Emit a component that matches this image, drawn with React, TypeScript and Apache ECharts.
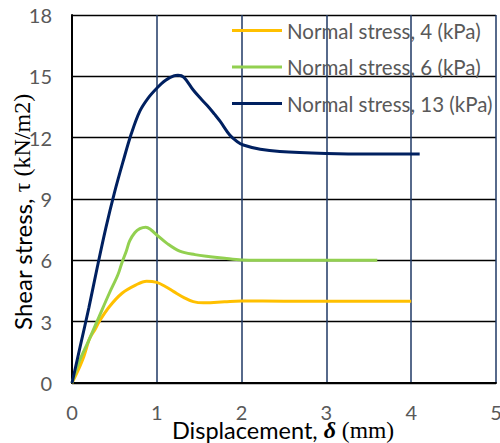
import React, { useEffect, useRef } from "react";
import * as echarts from "echarts";

const seriesNames = ["Normal stress, 4 (kPa)", "Normal stress, 6 (kPa)", "Normal stress, 13 (kPa)"];
const seriesColors = ["#FFC000", "#92D050", "#002060"];

const disp4 = [0, 0.07, 0.14, 0.2, 0.23, 0.27, 0.32, 0.44, 0.59, 0.75, 0.88, 1.0, 1.1, 1.2, 1.32, 1.43, 1.55, 1.63, 1.8, 2.0, 2.5, 3.0, 4.0];
const tau4 = [0, 0.6, 1.3, 2.1, 2.35, 2.6, 3.0, 3.73, 4.39, 4.79, 4.98, 4.92, 4.72, 4.47, 4.18, 3.98, 3.92, 3.93, 3.97, 4.01, 4.0, 4.0, 4.0];

const disp6 = [0, 0.09, 0.2, 0.32, 0.44, 0.54, 0.59, 0.64, 0.68, 0.74, 0.8, 0.87, 0.93, 1.0, 1.12, 1.27, 1.45, 1.63, 1.8, 2.0, 2.2, 3.0, 3.6];
const tau6 = [0, 1.1, 2.1, 3.25, 4.39, 5.28, 5.9, 6.45, 6.95, 7.35, 7.55, 7.62, 7.5, 7.24, 6.83, 6.45, 6.28, 6.18, 6.1, 6.02, 6.0, 6.0, 6.0];

const disp13 = [0, 0.1, 0.2, 0.3, 0.4, 0.5, 0.6, 0.7, 0.8, 0.9, 1.0, 1.1, 1.2, 1.25, 1.32, 1.43, 1.52, 1.6, 1.68, 1.75, 1.86, 1.95, 2.02, 2.22, 2.45, 3.0, 3.5, 4.1];
const tau13 = [0, 1.85, 3.7, 5.7, 7.6, 9.3, 10.8, 12.2, 13.3, 13.95, 14.42, 14.8, 15.02, 15.05, 14.95, 14.33, 13.9, 13.55, 13.15, 12.78, 12.13, 11.8, 11.64, 11.43, 11.32, 11.23, 11.2, 11.2];

const xTicks = [0, 1, 2, 3, 4, 5];
const yTicks = [0, 3, 6, 9, 12, 15, 18];

const allX = [disp4, disp6, disp13];
const allY = [tau4, tau6, tau13];

export default function App() {
  const ref = useRef<HTMLDivElement>(null);
  useEffect(() => {
    if (!ref.current) return;
    const chart = echarts.init(ref.current, null, { renderer: "svg" });
    const sans = "Lato, 'Open Sans', sans-serif";
    const serif = "'Liberation Serif', 'DejaVu Serif', serif";
    chart.setOption({
      animation: false,
      backgroundColor: "#ffffff",
      grid: { left: 72, right: 4, top: 15, bottom: 60, containLabel: false, outerBoundsMode: "none" },
      legend: {
        orient: "vertical",
        left: 232,
        top: 20,
        padding: 0,
        itemWidth: 50,
        itemHeight: 3,
        itemGap: 15.5,
        icon: "rect",
        textStyle: { color: "#595959", fontSize: 20.5, fontFamily: sans, lineHeight: 20, padding: [0, 0, 0, 0] },
        data: seriesNames,
      },
      xAxis: {
        type: "value",
        min: xTicks[0],
        max: xTicks[xTicks.length - 1],
        interval: 1,
        axisLine: { show: true, lineStyle: { color: "#000000", width: 2 } },
        axisTick: { show: false },
        axisLabel: { color: "#595959", fontSize: 20, fontFamily: sans, margin: 19 },
        splitLine: { show: true, lineStyle: { color: "#1F3864", width: 1.5 } },
      },
      yAxis: {
        type: "value",
        min: yTicks[0],
        max: yTicks[yTicks.length - 1],
        interval: 3,
        axisLine: { show: true, lineStyle: { color: "#000000", width: 2 } },
        axisTick: { show: false },
        axisLabel: { color: "#595959", fontSize: 20, fontFamily: sans, margin: 20 },
        splitLine: { show: true, lineStyle: { color: "#000000", width: 1.3 } },
      },
      graphic: [
        {
          type: "text",
          x: 22,
          y: 212,
          rotation: Math.PI / 2,
          style: {
            text: "{a|Shear stress, }{b|τ (kN/m2)}",
            align: "center",
            verticalAlign: "middle",
            fill: "#000000",
            rich: {
              a: { fontFamily: sans, fontSize: 24, fill: "#000000" },
              b: { fontFamily: serif, fontSize: 24, fill: "#000000" },
            },
          },
        },
        {
          type: "text",
          x: 283,
          y: 430,
          style: {
            text: "{a|Displacement, }{d|δ}{b| (mm)}",
            align: "center",
            verticalAlign: "middle",
            fill: "#000000",
            rich: {
              a: { fontFamily: sans, fontSize: 23.5, fill: "#000000" },
              d: { fontFamily: serif, fontSize: 24, fontWeight: "bold", fontStyle: "italic", fill: "#000000" },
              b: { fontFamily: serif, fontSize: 23.5, fill: "#000000" },
            },
          },
        },
      ],
      series: seriesNames.map((name, i) => ({
        name,
        type: "line",
        smooth: 0.35,
        symbol: "none",
        color: seriesColors[i],
        lineStyle: { color: seriesColors[i], width: 3 },
        data: allX[i].map((x, j) => [x, allY[i][j]]),
        z: 3 + i,
      })),
    });
    return () => chart.dispose();
  }, []);
  return (
    <div
      ref={ref}
      style={{ position: "absolute", left: 0, top: 0, width: 500, height: 443, overflow: "hidden" }}
    />
  );
}
